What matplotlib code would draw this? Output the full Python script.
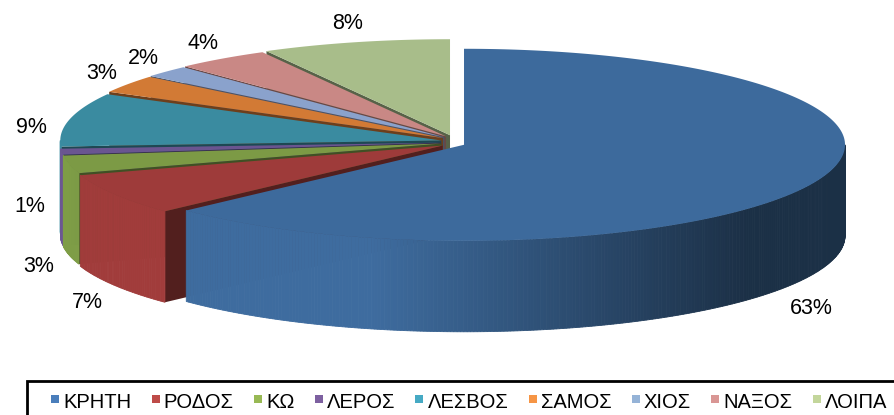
import numpy as np
import matplotlib
matplotlib.use('Agg')
import matplotlib.pyplot as plt
from matplotlib.patches import Polygon, Rectangle
from matplotlib.colors import to_rgb

plt.rcParams['font.family'] = ['Liberation Sans', 'DejaVu Sans']

# data
names = ['ΚΡΗΤΗ', 'ΡΟΔΟΣ', 'ΚΩ', 'ΛΕΡΟΣ', 'ΛΕΣΒΟΣ', 'ΣΑΜΟΣ', 'ΧΙΟΣ', 'ΝΑΞΟΣ', 'ΛΟΙΠΑ']
shares = [63, 7, 3, 1, 9, 3, 2, 4, 8]
pie_colors = ['#3d6a9c', '#9e3b3a', '#7c9a45', '#6a5590', '#3a8ba0',
              '#d27a35', '#8aa2cc', '#c98885', '#a8bd8a']
legend_colors = ['#4a7ebb', '#be4b48', '#98b954', '#7d60a0', '#46aac4',
                 '#f69545', '#95b3d7', '#d99694', '#c3d69b']

# label nudges (pixels) where Excel pushed labels around
label_nudge = {'ΚΡΗΤΗ': (-32, 20), 'ΛΕΡΟΣ': (0, -45), 'ΛΕΣΒΟΣ': (-7, 12)}

# geometry of the fake 3d pie, in pixels
cx, cy = 453, 142
rx, ry = 381, 96
depth = 91
ex, ey = 12, 7


def shade(col, f):
    r, g, b = to_rgb(col)
    return (min(r * f, 1), min(g * f, 1), min(b * f, 1))


fig = plt.figure(figsize=(8.95, 4.15), dpi=100)
ax = fig.add_axes([0, 0, 1, 1])
ax.set_xlim(0, 895)
ax.set_ylim(415, 0)
ax.axis('off')

total = float(sum(shares))
cum = np.concatenate([[0], np.cumsum(shares)]) / total
slices = []
for i in range(len(shares)):
    ts = 90 - cum[i] * 360
    te = 90 - cum[i + 1] * 360
    arc = np.linspace(te, ts, 200)
    slices.append((np.sin(np.radians(arc)).min(), i, ts, te))

# back to front
slices.sort(key=lambda s: -s[0])

for _, i, ts, te in slices:
    col = pie_colors[i]
    bis = np.radians((ts + te) / 2)
    ox = cx + ex * np.cos(bis)
    oy = cy - ey * np.sin(bis)

    def rim(t):
        t = np.radians(t)
        return ox + rx * np.cos(t), oy - ry * np.sin(t)

    # radial walls
    for t, n in ((ts, ts + 90), (te, te - 90)):
        if np.sin(np.radians(n)) < -1e-6:
            px, py = rim(t)
            ax.add_patch(Polygon([(ox, oy), (px, py), (px, py + depth), (ox, oy + depth)],
                                 closed=True, fc=shade(col, 0.52), ec='none', zorder=1))

    # outer wall, front part only
    lo, hi = max(te, -180), min(ts, 0)
    if hi > lo:
        steps = np.linspace(lo, hi, max(3, int((hi - lo) * 2)))
        for a, b in zip(steps[:-1], steps[1:]):
            m = np.radians((a + b) / 2)
            f = np.clip(0.88 - 0.58 * np.cos(m), 0.45, 1.02)
            ax1, ay1 = rim(a)
            bx1, by1 = rim(b)
            ax.add_patch(Polygon([(ax1, ay1), (bx1, by1), (bx1, by1 + depth), (ax1, ay1 + depth)],
                                 closed=True, fc=shade(col, f), ec=shade(col, f), lw=0.6, zorder=1))

    # top face
    arc = np.linspace(ts, te, 300)
    xs, ys = rim(arc)
    pts = [(ox, oy)] + list(zip(xs, ys))
    ax.add_patch(Polygon(pts, closed=True, fc=col, ec='none', zorder=1))

# data labels
for i, nm in enumerate(names):
    ts = 90 - cum[i] * 360
    te = 90 - cum[i + 1] * 360
    bis = np.radians((ts + te) / 2)
    lx = cx + 425 * np.cos(bis)
    ly = cy - 122 * np.sin(bis)
    if np.sin(bis) < 0:
        ly += depth + 7
    dx, dy = label_nudge.get(nm, (0, 0))
    ax.text(lx + dx, ly + dy, f'{shares[i]}%', fontsize=15.5, ha='center', va='center',
            color='black', zorder=5)

# legend box, drawn by hand like the Excel one
ax.add_patch(Rectangle((27, 381), 900, 60, fc='white', ec='black', lw=2, zorder=4,
                       clip_on=False))
renderer = fig.canvas.get_renderer()
texts = []
for nm in names:
    t = ax.text(0, 402, nm, fontsize=14.5, ha='left', va='center', zorder=6)
    texts.append(t)
widths = []
for t in texts:
    bb = t.get_window_extent(renderer)
    widths.append(bb.width)
msize, mpad = 8, 4
x0, x1 = 51, 887
gap = (x1 - x0 - sum(msize + mpad + w for w in widths)) / (len(names) - 1)
x = x0
for i, t in enumerate(texts):
    ax.add_patch(Rectangle((x, 395), msize, msize, fc=legend_colors[i], ec='none', zorder=6))
    t.set_x(x + msize + mpad)
    x += msize + mpad + widths[i] + gap

fig.savefig('out.png', dpi=100)
